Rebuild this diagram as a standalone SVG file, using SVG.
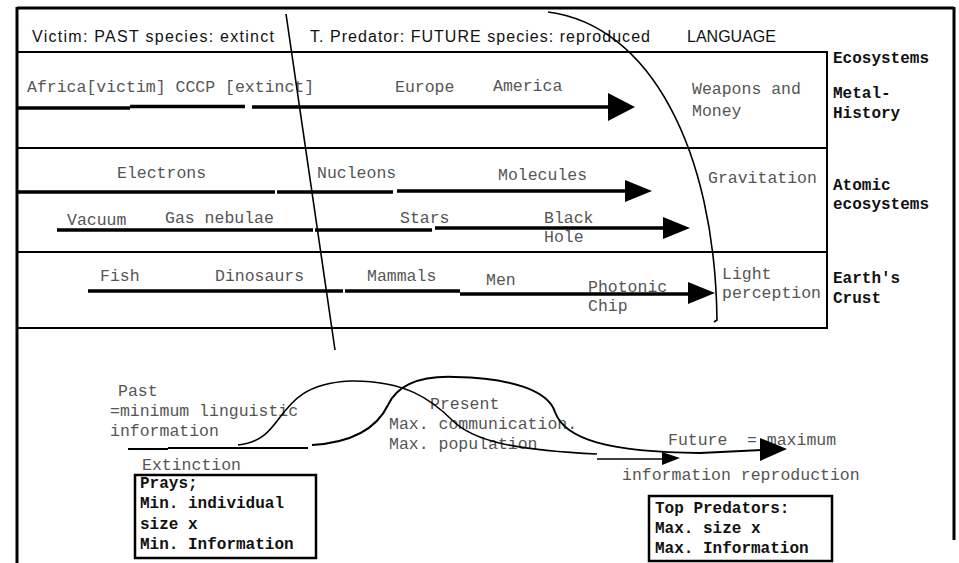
<svg xmlns="http://www.w3.org/2000/svg" width="959" height="563" viewBox="0 0 959 563">
<defs>
<style>
.h{font-family:"Liberation Sans",Arial,sans-serif;font-size:16px;fill:#111}
.m{font-family:"Liberation Mono","Courier New",monospace;font-size:16.5px;fill:#555}
.b{font-family:"Liberation Mono","Courier New",monospace;font-size:16px;font-weight:bold;fill:#111}
.fr{fill:none;stroke:#000;stroke-width:3}
.ln{fill:none;stroke:#000;stroke-width:2}
.thk{fill:none;stroke:#000;stroke-width:3.5}
.thin{fill:none;stroke:#000;stroke-width:1.6}
.ah{fill:#000;stroke:none}
</style>
</defs>
<rect width="959" height="563" fill="#fff"/>
<g id="frame">
<path class="fr" d="M17,8 H954 M17,7 V563 M954,7 V540"/>
<path class="ln" d="M17,52 H827 V328 H17 M17,148 H827 M17,252 H827"/>
<path class="ln" d="M17,148 H827" stroke-width="3"/>
</g>
<g id="header">
<text class="h" x="32" y="42" textLength="242" lengthAdjust="spacing">Victim: PAST species: extinct</text>
<text class="h" x="310" y="42" textLength="340" lengthAdjust="spacing">T. Predator: FUTURE species: reproduced</text>
<text class="h" x="687" y="42" textLength="89" lengthAdjust="spacingAndGlyphs">LANGUAGE</text>
</g>
<g id="side-labels">
<text class="b" x="833" y="63">Ecosystems</text>
<text class="b" x="833" y="98">Metal-</text>
<text class="b" x="833" y="118">History</text>
<text class="b" x="833" y="190">Atomic</text>
<text class="b" x="833" y="209">ecosystems</text>
<text class="b" x="833" y="283">Earth's</text>
<text class="b" x="833" y="303">Crust</text>
</g>
<g id="row-metal-history">
<text class="m" x="27" y="92">Africa[victim] CCCP [extinct]</text>
<text class="m" x="395" y="92">Europe</text>
<text class="m" x="493" y="91">America</text>
<text class="m" x="692" y="94">Weapons and</text>
<text class="m" x="692" y="116">Money</text>
</g>
<g id="row-atomic">
<text class="m" x="117" y="178">Electrons</text>
<text class="m" x="317" y="178">Nucleons</text>
<text class="m" x="498" y="180">Molecules</text>
<text class="m" x="708" y="183">Gravitation</text>
<text class="m" x="67" y="225">Vacuum</text>
<text class="m" x="165" y="223">Gas nebulae</text>
<text class="m" x="400" y="223">Stars</text>
<text class="m" x="544" y="223">Black</text>
<text class="m" x="544" y="242">Hole</text>
</g>
<g id="row-earth">
<text class="m" x="100" y="281">Fish</text>
<text class="m" x="215" y="281">Dinosaurs</text>
<text class="m" x="367" y="281">Mammals</text>
<text class="m" x="486" y="285">Men</text>
<text class="m" x="588" y="292">Photonic</text>
<text class="m" x="588" y="311">Chip</text>
<text class="m" x="722" y="279">Light</text>
<text class="m" x="722" y="298">perception</text>
</g>
<g id="past">
<text class="m" x="118" y="396">Past</text>
<text class="m" x="110" y="416">=minimum linguistic</text>
<text class="m" x="110" y="436">information</text>
<text class="m" x="142" y="470">Extinction</text>
</g>
<g id="prays-box">
<rect x="135" y="475" width="181" height="83" fill="none" stroke="#000" stroke-width="2.5"/>
<text class="b" x="140" y="488">Prays;</text>
<text class="b" x="140" y="508">Min. individual</text>
<text class="b" x="140" y="529">size x</text>
<text class="b" x="140" y="549">Min. Information</text>
</g>
<g id="present">
<text class="m" x="430" y="409">Present</text>
<text class="m" x="389" y="429">Max. communication.</text>
<text class="m" x="389" y="449">Max. population</text>
</g>
<g id="future">
<text class="m" x="668" y="445">Future</text>
<text class="m" x="747" y="445">= maximum</text>
<text class="m" x="622" y="480">information reproduction</text>
</g>
<g id="predators-box">
<rect x="649" y="496" width="183" height="65" fill="none" stroke="#000" stroke-width="2.5"/>
<text class="b" x="655" y="513">Top Predators:</text>
<text class="b" x="655" y="533">Max. size x</text>
<text class="b" x="655" y="553">Max. Information</text>
</g>
<g id="connectors">
<path class="thin" d="M286,14 L335,350"/>
<path class="thin" d="M548,12 C650,25 715,150 717,320 L714,322"/>
<path class="thk" d="M17,108 H130 M130,106.5 H245 M252,107 H610"/>
<polygon class="ah" points="608,93 635,107 608,121"/>
<path class="thk" d="M17,192 H275 M277,192 H393 M397,191 H627"/>
<polygon class="ah" points="625,180 652,191 625,202"/>
<path class="thk" d="M57,230 H313 M315,230 H432 M435,228 H665"/>
<polygon class="ah" points="663,217 690,228 663,239"/>
<path class="thk" d="M88,291 H343 M345,291 H460 M460,294 H690"/>
<polygon class="ah" points="688,282 715,293 688,304"/>
<path class="ln" d="M128,449 H168"/>
<path class="ln" d="M168,448 H212" stroke-width="4"/>
<path class="ln" d="M212,448 H308" stroke-width="3"/>
<path class="thin" d="M238,445 C290,440 270,385 350,381"/>
<path class="thin" d="M350,381 C405,380 432,400 452,420 C472,440 510,450 597,454"/>
<path class="ln" d="M312,445 C345,443 375,432 388,405" stroke-width="3"/>
<path class="ln" d="M388,405 C400,380 430,376 455,377 C510,378 548,390 555,412 C565,440 610,452 700,453 L762,450" stroke-width="4"/>
<polygon class="ah" points="760,438 787,449 760,461"/>
<path class="thin" d="M597,459 H664"/>
<polygon class="ah" points="662,452 680,458 662,465"/>
</g>
</svg>
